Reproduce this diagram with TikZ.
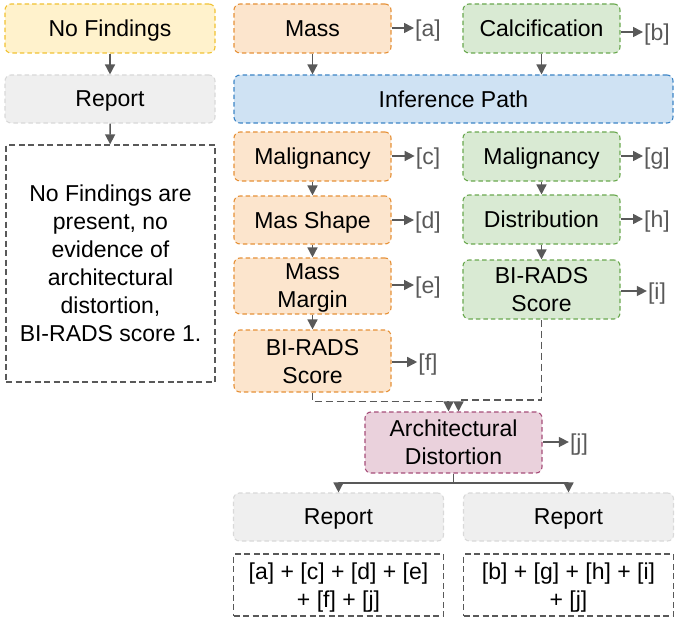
\documentclass[tikz,border=0pt]{standalone}
\usepackage{fontspec}
\setmainfont{Liberation Sans}
\usetikzlibrary{arrows.meta}
\definecolor{yfill}{HTML}{FFF2CC}\definecolor{ydraw}{HTML}{F1C232}
\definecolor{ofill}{HTML}{FCE5CD}\definecolor{odraw}{HTML}{E69138}
\definecolor{gfill}{HTML}{D9EAD3}\definecolor{gdraw}{HTML}{6AA84F}
\definecolor{bfill}{HTML}{CFE2F3}\definecolor{bdraw}{HTML}{3D85C6}
\definecolor{mfill}{HTML}{EAD1DC}\definecolor{mdraw}{HTML}{A64D79}
\definecolor{rfill}{HTML}{EFEFEF}\definecolor{rdraw}{HTML}{D9D9D9}
\definecolor{dk}{HTML}{595959}
\begin{document}
\begin{tikzpicture}[x=1pt,y=-1pt,
  every node/.style={font=\fontsize{23}{28}\selectfont, align=center, inner sep=0pt, text depth=0pt},
  bx/.style={rounded corners=6pt, dash pattern=on 4.5pt off 3pt, line width=1.1pt, minimum width=#1},
  bx/.default=157pt,
  yb/.style={bx=210pt, draw=ydraw, fill=yfill},
  ob/.style={bx, draw=odraw, fill=ofill},
  gb/.style={bx, draw=gdraw, fill=gfill},
  blb/.style={bx=439pt, draw=bdraw, fill=bfill},
  mb/.style={bx=177pt, draw=mdraw, fill=mfill},
  rb/.style={bx=210pt, draw=rdraw, fill=rfill},
  tb/.style={dash pattern=on 6pt off 3.5pt, line width=1.3pt, draw=dk, fill=white, minimum width=#1},
  lab/.style={text=dk, inner sep=1pt},
  arr/.style={draw=dk, line width=1.5pt, -{Triangle[length=10pt,width=10pt]}},
  darr/.style={arr, dash pattern=on 7pt off 4pt}
]
\useasboundingbox (0,0) rectangle (684,623);
% left column
\node[yb, minimum height=49pt] (nf) at (110,28.5) {No Findings};
\node[rb, minimum height=48pt] (rep0) at (110,99) {Report};
\node[tb=209pt, minimum height=237pt] (txt0) at (110.5,263.5) {No Findings are\\present, no\\evidence of\\architectural\\distortion,\\BI-RADS score 1.};
% top row
\node[ob, minimum height=49pt] (mass) at (312.5,28.5) {Mass};
\node[gb, minimum height=49pt] (calc) at (541.5,28.5) {Calcification};
\node[blb, minimum height=48pt] (inf) at (453.5,99) {Inference Path};
% mass path
\node[ob, minimum height=49pt] (mal1) at (312.5,156.5) {Malignancy};
\node[ob, minimum height=48pt] (shape) at (312.5,220) {Mas Shape};
\node[ob, minimum height=56pt] (margin) at (312.5,286) {Mass\\Margin};
\node[ob, minimum height=62pt] (bir1) at (312.5,361) {BI-RADS\\Score};
% calcification path
\node[gb, minimum height=49pt] (mal2) at (541.5,156.5) {Malignancy};
\node[gb, minimum height=49pt] (dist) at (541.5,219.5) {Distribution};
\node[gb, minimum height=59pt] (bir2) at (541.5,289.5) {BI-RADS\\Score};
% bottom
\node[mb, minimum height=61pt] (arch) at (453.5,442.5) {Architectural\\Distortion};
\node[rb, minimum height=48pt] (rep1) at (338.5,517) {Report};
\node[rb, minimum height=48pt] (rep2) at (568.5,517) {Report};
\node[tb=210pt, minimum height=62pt] (t1) at (338.5,585) {[a] + [c] + [d] + [e]\\+ [f] + [j]};
\node[tb=210pt, minimum height=62pt] (t2) at (568.5,585) {[b] + [g] + [h] + [i]\\+ [j]};
% labels
\node[lab] (la) at (428,28) {[a]};
\node[lab] (lb) at (657,32) {[b]};
\node[lab] (lc) at (428,156) {[c]};
\node[lab] (ld) at (428,220) {[d]};
\node[lab] (le) at (428,285) {[e]};
\node[lab] (lf) at (428,362) {[f]};
\node[lab] (lg) at (657,156) {[g]};
\node[lab] (lh) at (657,219) {[h]};
\node[lab] (li) at (657,291) {[i]};
\node[lab] (lj) at (579,442) {[j]};
% label arrows
\foreach \s/\l in {mass/la,calc/lb,mal1/lc,shape/ld,margin/le,bir1/lf,mal2/lg,dist/lh,bir2/li,arch/lj}
  \draw[arr] (\s.east |- \l.west) -- (\l.west);
% vertical arrows
\draw[arr] (nf) -- (rep0);
\draw[arr] (rep0) -- (txt0);
\draw[arr] (mass) -- (inf.north -| mass);
\draw[arr] (calc) -- (inf.north -| calc);
\draw[arr] (mal1) -- (shape);
\draw[arr] (shape) -- (margin);
\draw[arr] (margin) -- (bir1);
\draw[arr] (mal2) -- (dist);
\draw[arr] (dist) -- (bir2);
% dashed merges
\coordinate (m1) at (448.5,401.5);
\coordinate (m2) at (458.5,400);
\draw[darr] (bir1.south) |- (m1) -- (m1 |- arch.north);
\draw[darr] (bir2.south) |- (m2) -- (m2 |- arch.north);
% split
\coordinate (sp) at (453.5,483);
\draw[draw=dk, line width=1.5pt] (arch.south) -- (sp);
\draw[arr] (sp) -| (rep1.north);
\draw[arr] (sp) -| (rep2.north);
\end{tikzpicture}
\end{document}
